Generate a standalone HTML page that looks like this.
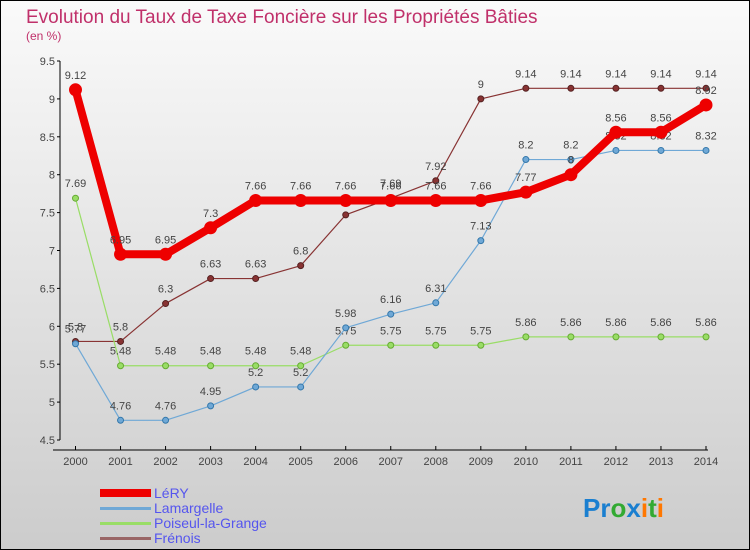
<!DOCTYPE html>
<html><head><meta charset="utf-8"><style>
body{margin:0;width:750px;height:550px;overflow:hidden;font-family:"Liberation Sans",sans-serif}
svg{display:block}
</style></head><body>
<svg id="chart" width="750" height="550" xmlns="http://www.w3.org/2000/svg">
<defs><linearGradient id="bg" x1="0" y1="0" x2="0" y2="1"><stop offset="0" stop-color="#fafafa"/><stop offset="1" stop-color="#cccccc"/></linearGradient></defs>
<rect x="0.5" y="0.5" width="749" height="549" fill="url(#bg)" stroke="#000"/>
<text x="26" y="23" font-size="19" fill="#c0306a">Evolution du Taux de Taxe Foncière sur les Propriétés Bâties</text>
<text x="26" y="40" font-size="12" fill="#c0306a">(en %)</text>
<g id="axes"></g><g id="series"></g>
<g>
<rect x="100" y="489" width="51" height="8" fill="#ee0000"/>
<text x="154" y="498" font-size="14" fill="#5555ee">LéRY</text>
<rect x="100" y="507" width="51" height="3" fill="#6fa8d6"/>
<text x="154" y="513" font-size="14" fill="#5555ee">Lamargelle</text>
<rect x="100" y="522" width="51" height="3" fill="#99dd66"/>
<text x="154" y="528" font-size="14" fill="#5555ee">Poiseul-la-Grange</text>
<rect x="100" y="537" width="51" height="3" fill="#996666"/>
<text x="154" y="543" font-size="14" fill="#5555ee">Frénois</text>
</g>
<text x="583" y="517" font-size="26" font-weight="bold"><tspan fill="#1a7fd0">Pr</tspan><tspan fill="#33aa33">o</tspan><tspan fill="#1a7fd0">x</tspan><tspan fill="#ff7700">i</tspan><tspan fill="#33aa33">t</tspan><tspan fill="#ff7700">i</tspan></text>
</svg>
<script>
const years=[2000,2001,2002,2003,2004,2005,2006,2007,2008,2009,2010,2011,2012,2013,2014];
const yTicks=[4.5,5,5.5,6,6.5,7,7.5,8,8.5,9,9.5];
const lery=[9.12,6.95,6.95,7.3,7.66,7.66,7.66,7.66,7.66,7.66,7.77,8.0,8.56,8.56,8.92];
const lamargelle=[5.77,4.76,4.76,4.95,5.2,5.2,5.98,6.16,6.31,7.13,8.2,8.2,8.32,8.32,8.32];
const poiseul=[7.69,5.48,5.48,5.48,5.48,5.48,5.75,5.75,5.75,5.75,5.86,5.86,5.86,5.86,5.86];
const frenois=[5.8,5.8,6.3,6.63,6.63,6.8,7.47,7.69,7.92,9,9.14,9.14,9.14,9.14,9.14];
const NS="http://www.w3.org/2000/svg";
const xS=i=>75.5+i*(706-75.5)/(years.length-1);
const yS=v=>440-(v-4.5)*(440-61)/5;
function mk(t,a,p){const e=document.createElementNS(NS,t);for(const k in a)e.setAttribute(k,a[k]);p.appendChild(e);return e;}
const ax=document.getElementById('axes');
const ya=mk('line',{x1:60,y1:61,x2:60,y2:440,stroke:'#000'},ax);


yTicks.forEach(v=>{
 mk('line',{x1:57,x2:60,y1:yS(v),y2:yS(v),stroke:'#000'},ax);
 const t=mk('text',{x:55,y:yS(v)+4,'text-anchor':'end','font-size':11,fill:'#444'},ax);
 
 
 t.textContent=v;
});
const xa=mk('line',{x1:53,y1:450,x2:708,y2:450,stroke:'#000'},ax);


years.forEach((y,i)=>{
 mk('line',{x1:xS(i),x2:xS(i),y1:446,y2:450,stroke:'#000'},ax);
 const t=mk('text',{x:xS(i),y:465,'text-anchor':'middle','font-size':11,fill:'#444'},ax);
 
 
 t.textContent=y;
});
const sg=document.getElementById('series');
function draw(name,data,color,w,r,stroke){
 const g=mk('g',{},sg);
 
 
 const pl=mk('polyline',{points:data.map((v,i)=>xS(i)+','+yS(v)).join(' '),fill:'none',stroke:color,'stroke-width':w,'stroke-linejoin':'round'},g);
 
 
 data.forEach((v,i)=>{
  const c=mk('circle',{cx:xS(i),cy:yS(v),r:r,fill:color,stroke:stroke,'stroke-width':1},g);
  
  
  const t=mk('text',{x:xS(i),y:yS(v)-11,'text-anchor':'middle','font-size':11,fill:'#444'},g);
  
  
  t.textContent=v;
 });
}
draw('frenois',frenois,'#883333',1.2,3,'#552222');
draw('poiseul',poiseul,'#99dd66',1.2,3,'#66aa33');
draw('lamargelle',lamargelle,'#6fa8d6',1.2,3,'#3377aa');
draw('lery',lery,'#ee0000',8,6,'#ee0000');
</script>
</body></html>
